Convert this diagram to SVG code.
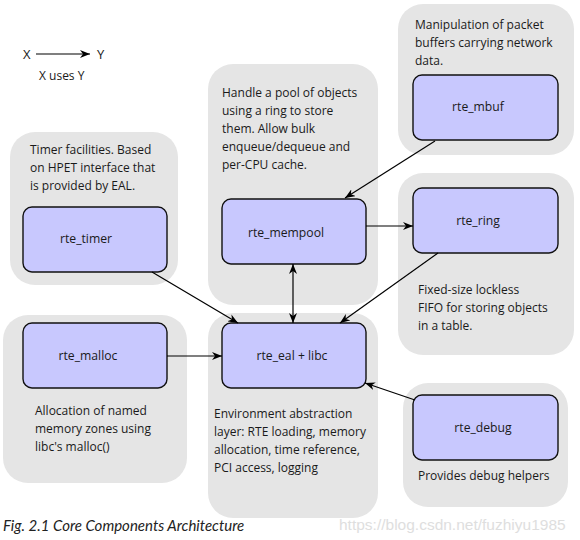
<svg xmlns="http://www.w3.org/2000/svg" width="580" height="540" viewBox="0 0 580 540">
<style>
.grp{fill:#e5e5e5;}
.node{fill:#c8c8fe;stroke:#111;stroke-width:1.4;}
.t{font-family:"Open Sans","Noto Sans",sans-serif;font-size:12px;fill:#1a1a1a;}
.nt{font-family:"Open Sans","Noto Sans",sans-serif;font-size:12.2px;fill:#1a1a1a;text-anchor:middle;}
.c{stroke:#000;stroke-width:1.2;fill:none;}
</style>
<defs>
<marker id="ah" viewBox="0 0 10 8" refX="10" refY="4" markerWidth="10" markerHeight="8" markerUnits="userSpaceOnUse" orient="auto-start-reverse">
<path d="M0,0 L10,4 L0,8 L3,4 z" fill="#000"/>
</marker>
</defs>
<rect width="580" height="540" fill="#fff"/>

<g id="legend">
<text class="t" x="23" y="59" style="font-size:13px">X</text>
<line class="c" x1="36" y1="54" x2="90" y2="54" marker-end="url(#ah)"/>
<text class="t" x="97" y="59" style="font-size:13px">Y</text>
<text class="t" x="39" y="80">X uses Y</text>
</g>

<g id="timer">
<rect class="grp" x="10" y="132" width="168" height="153" rx="25"/>
<text class="t" x="30" y="154">Timer facilities. Based</text>
<text class="t" x="30" y="172">on HPET interface that</text>
<text class="t" x="30" y="190">is provided by EAL.</text>
<rect class="node" x="23" y="207" width="144" height="65" rx="9"/>
<text class="nt" x="86" y="243">rte_timer</text>
</g>

<g id="malloc">
<rect class="grp" x="3" y="315" width="184" height="168" rx="25"/>
<rect class="node" x="23" y="323" width="144" height="65" rx="9"/>
<text class="nt" x="88" y="360">rte_malloc</text>
<text class="t" x="35" y="415">Allocation of named</text>
<text class="t" x="35" y="433">memory zones using</text>
<text class="t" x="35" y="451">libc's malloc()</text>
</g>

<g id="mempool">
<rect class="grp" x="208" y="64" width="170" height="241" rx="25"/>
<text class="t" x="222" y="97">Handle a pool of objects</text>
<text class="t" x="222" y="115">using a ring to store</text>
<text class="t" x="222" y="133">them. Allow bulk</text>
<text class="t" x="222" y="151">enqueue/dequeue and</text>
<text class="t" x="222" y="169">per-CPU cache.</text>
<rect class="node" x="222" y="199" width="144" height="65" rx="9"/>
<text class="nt" x="286" y="237">rte_mempool</text>
</g>

<g id="mbuf">
<rect class="grp" x="398" y="4" width="176" height="151" rx="25"/>
<text class="t" x="415" y="29">Manipulation of packet</text>
<text class="t" x="415" y="47">buffers carrying network</text>
<text class="t" x="415" y="65">data.</text>
<rect class="node" x="413" y="75" width="145" height="65" rx="9"/>
<text class="nt" x="478" y="111">rte_mbuf</text>
</g>

<g id="ring">
<rect class="grp" x="398" y="173" width="176" height="182" rx="25"/>
<rect class="node" x="413" y="188" width="145" height="65" rx="9"/>
<text class="nt" x="478" y="225">rte_ring</text>
<text class="t" x="418" y="294">Fixed-size lockless</text>
<text class="t" x="418" y="312">FIFO for storing objects</text>
<text class="t" x="418" y="330">in a table.</text>
</g>

<g id="eal">
<rect class="grp" x="208" y="313" width="170" height="205" rx="25"/>
<rect class="node" x="222" y="323" width="144" height="65" rx="9"/>
<text class="nt" x="292" y="360">rte_eal + libc</text>
<text class="t" x="214" y="418">Environment abstraction</text>
<text class="t" x="214" y="436">layer: RTE loading, memory</text>
<text class="t" x="214" y="454">allocation, time reference,</text>
<text class="t" x="214" y="472">PCI access, logging</text>
</g>

<g id="debug">
<rect class="grp" x="403" y="383" width="165" height="124" rx="25"/>
<rect class="node" x="413" y="395" width="145" height="65" rx="9"/>
<text class="nt" x="483" y="432">rte_debug</text>
<text class="t" x="418" y="480">Provides debug helpers</text>
</g>

<g id="connectors">
<line class="c" x1="435" y1="141" x2="345" y2="198" marker-end="url(#ah)"/>
<line class="c" x1="366" y1="226" x2="413" y2="226" marker-end="url(#ah)"/>
<line class="c" x1="438" y1="253" x2="340" y2="323" marker-end="url(#ah)"/>
<line class="c" x1="293" y1="264" x2="293" y2="323" marker-start="url(#ah)" marker-end="url(#ah)"/>
<line class="c" x1="152" y1="272" x2="238" y2="323" marker-end="url(#ah)"/>
<line class="c" x1="167" y1="356" x2="222" y2="356" marker-end="url(#ah)"/>
<line class="c" x1="415" y1="400" x2="365" y2="383" marker-end="url(#ah)"/>
</g>

<text x="3" y="531" style="font-family:Lato,'Open Sans',sans-serif;font-style:italic;font-size:15px;fill:#222">Fig. 2.1 Core Components Architecture</text>
<text x="339" y="530" style="font-family:'Liberation Sans',Arial,sans-serif;font-size:15.5px;fill:#dedede">https://blog.csdn.net/fuzhiyu1985</text>
</svg>
